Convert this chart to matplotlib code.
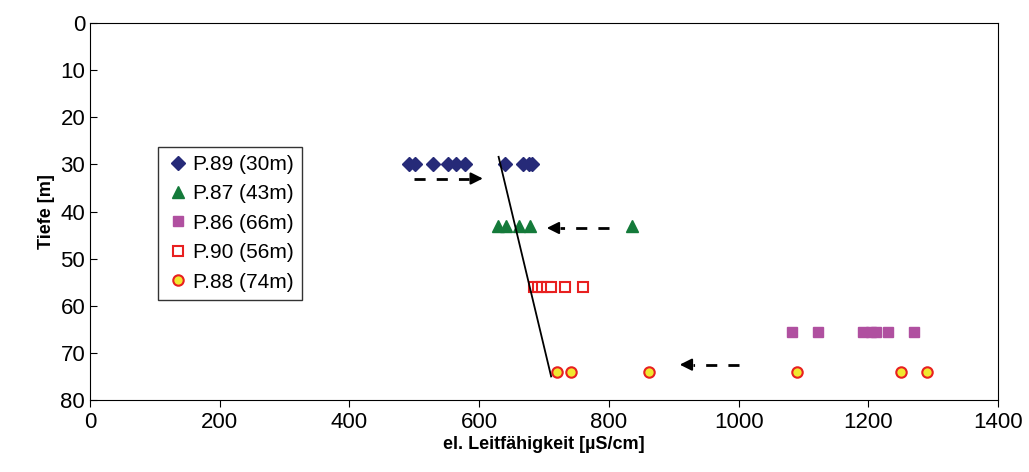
import matplotlib.pyplot as plt

plt.rcParams['font.family'] = ['Liberation Sans', 'DejaVu Sans']

# data
p89_x = [492, 501, 529, 552, 564, 578, 640, 667, 677, 681]
p89_y = 30
p87_x = [629, 641, 661, 678, 835]
p87_y = 43
p86_x = [1082, 1122, 1192, 1204, 1212, 1231, 1271]
p86_y = 65.5
p90_x = [684, 690, 697, 705, 711, 733, 760]
p90_y = 56
p88_x = [720, 742, 862, 1090, 1250, 1291]
p88_y = 74
trend_x = [630, 711]
trend_y = [28.4, 75]
arrows = [(500, 33, 610, 33), (800, 43.5, 700, 43.5), (1000, 72.5, 905, 72.5)]

fig = plt.figure(figsize=(10.29, 4.72), dpi=100)
ax = fig.add_axes([90/1029, 72/472, 908/1029, 377/472])

ax.plot(p89_x, [p89_y]*len(p89_x), 'D', color='#262a78', ms=7, ls='none', label='P.89 (30m)')
ax.plot(p87_x, [p87_y]*len(p87_x), '^', color='#147a3a', ms=9, ls='none', label='P.87 (43m)')
ax.plot(p86_x, [p86_y]*len(p86_x), 's', color='#b050a0', ms=7.5, ls='none', label='P.86 (66m)')
ax.plot(p90_x, [p90_y]*len(p90_x), 's', mfc='white', mec='#e82020', mew=1.5, ms=7.5, ls='none', label='P.90 (56m)')
ax.plot(p88_x, [p88_y]*len(p88_x), 'o', mfc='#f0e830', mec='#e82020', mew=1.5, ms=7.5, ls='none', label='P.88 (74m)')
ax.plot(trend_x, trend_y, color='black', lw=1.3)

for x0, y0, x1, y1 in arrows:
    off = 25 if x1 < x0 else -25
    ax.plot([x0, x1 + off], [y0, y1], ls=(0, (4, 4)), color='black', lw=2)
    ax.annotate('', xy=(x1, y1), xytext=(x1 + off, y1),
                arrowprops=dict(arrowstyle='-|>', color='black', lw=1.5, mutation_scale=18))

ax.set_xlim(0, 1400)
ax.set_ylim(80, 0)
ax.set_xticks(range(0, 1401, 200))
ax.set_yticks(range(0, 81, 10))
ax.tick_params(labelsize=16, direction='in', length=5)
ax.tick_params(axis='x', direction='out')
ax.set_xlabel('el. Leitfähigkeit [µS/cm]', fontsize=13, fontweight='bold', labelpad=2)
ax.set_ylabel('Tiefe [m]', fontsize=13, fontweight='bold')

leg = ax.legend(loc='upper left', bbox_to_anchor=(0.063, 0.7), fontsize=15, frameon=True,
                fancybox=False, edgecolor='black', handletextpad=0.1, borderpad=0.4,
                labelspacing=0.5, handlelength=1.2)
leg.get_frame().set_linewidth(1)

fig.savefig('out.png', dpi=100)
